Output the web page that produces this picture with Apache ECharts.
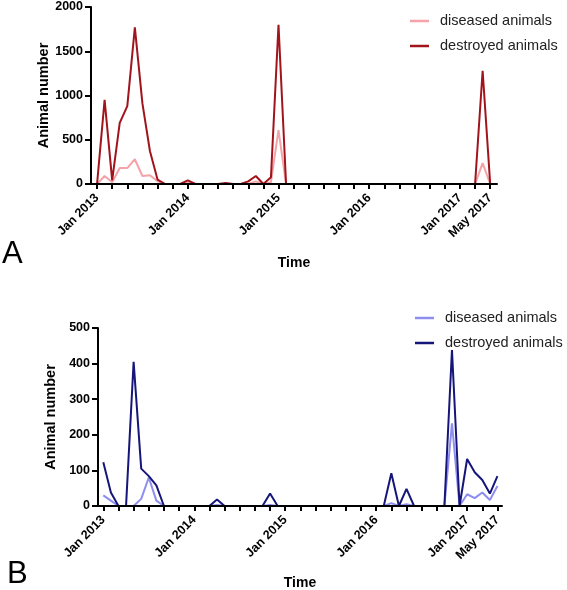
<!DOCTYPE html>
<html>
<head>
<meta charset="utf-8">
<script src="https://cdn.jsdelivr.net/npm/echarts@6/dist/echarts.min.js"></script>
<style>html,body{margin:0;padding:0;background:#fff;}#c{width:567px;height:590px;}</style>
</head>
<body>
<div id="c"></div>
<script>
// Months counted from Jan 2013 (0) to May 2017 (52)
var tickMonths = [0,2,4,6,8,10,12,14,16,18,20,22,24,26,28,30,32,34,36,38,40,42,44,46,48,50,52];
var labelMonths = [0,12,24,36,48,52];
var labelTexts = ['Jan 2013','Jan 2014','Jan 2015','Jan 2016','Jan 2017','May 2017'];

// Panel A
var diseasedA = [0,90,20,180,180,280,90,100,30,0,0,0,10,0,0,0,0,0,0,0,0,30,0,20,610,0,0,0,0,0,0,0,0,0,0,0,0,0,0,0,0,0,0,0,0,0,0,0,0,0,0,235,0];
var destroyedA = [0,950,40,690,880,1770,910,370,50,0,0,0,40,0,0,0,0,10,0,0,30,90,0,75,1800,0,0,0,0,0,0,0,0,0,0,0,0,0,0,0,0,0,0,0,0,0,0,0,0,0,0,1280,0];
// Panel B
var diseasedB = [30,15,0,0,0,20,80,15,0,0,0,0,0,0,0,3,0,0,0,0,0,0,3,0,0,0,0,0,0,0,0,0,0,0,0,0,0,0,8,0,5,0,0,0,0,0,232,0,33,22,38,17,56];
var destroyedB = [123,38,0,0,405,105,84,58,0,0,0,0,0,0,0,18,0,0,0,0,0,0,35,0,0,0,0,0,0,0,0,0,0,0,0,0,0,0,92,0,48,0,0,0,0,0,438,0,132,95,73,35,84];

var yTicksA = [0,500,1000,1500,2000];
var yTicksB = [0,100,200,300,400,500];

var FONT = "'Liberation Sans', Arial, Helvetica, sans-serif";
function pairs(arr){ return arr.map(function(v,i){ return [i,v]; }); }
function labelFor(v){ var k = labelMonths.indexOf(Math.round(v)); return k >= 0 ? labelTexts[k] : ''; }

function xAxisCfg(gridIndex, min, max, nameGap){
  return {
    type:'value', gridIndex:gridIndex, min:min, max:max, z:5,
    name:'Time', nameLocation:'middle', nameGap:nameGap, nameMoveOverlap:false,
    nameTextStyle:{fontFamily:FONT, fontWeight:'bold', fontSize:14, color:'#000'},
    splitLine:{show:false},
    axisLine:{show:true, onZero:false, lineStyle:{color:'#000', width:2}},
    axisTick:{show:true, length:5, customValues:tickMonths, lineStyle:{color:'#000', width:2}},
    axisLabel:{show:true, rotate:45, margin:12, customValues:labelMonths, formatter:labelFor,
      fontFamily:FONT, fontWeight:'bold', fontSize:12.5, color:'#000'}
  };
}
function yAxisCfg(gridIndex, max, interval, ticks, nameGap){
  return {
    type:'value', gridIndex:gridIndex, min:0, max:max, interval:interval, z:5,
    name:'Animal number', nameLocation:'middle', nameGap:nameGap, nameMoveOverlap:false,
    nameTextStyle:{fontFamily:FONT, fontWeight:'bold', fontSize:14.5, color:'#000'},
    splitLine:{show:false},
    axisLine:{show:true, onZero:false, lineStyle:{color:'#000', width:2}},
    axisTick:{show:true, length:6, lineStyle:{color:'#000', width:2}},
    axisLabel:{margin:8, fontFamily:FONT, fontWeight:'bold', fontSize:12.5, color:'#000',
      formatter:function(v){ return ticks.indexOf(v) >= 0 ? String(v) : ''; }}
  };
}
function legendCfg(left, top, names, suffix){
  return {
    orient:'vertical', left:left, top:top, icon:'rect', itemWidth:19, itemHeight:2.5, itemGap:9,
    data:names, selectedMode:false,
    formatter:function(n){ return n.replace(suffix,''); },
    textStyle:{fontFamily:FONT, fontSize:14.5, color:'#222', lineHeight:16, padding:[0,0,0,6]}
  };
}

var chart = echarts.init(document.getElementById('c'), null, {renderer:'canvas'});
chart.setOption({
  animation:false,
  backgroundColor:'#fff',
  grid:[
    {left:91, top:7, width:406, height:177, containLabel:false, outerBoundsMode:'none'},
    {left:98, top:328, width:404, height:178, containLabel:false, outerBoundsMode:'none'}
  ],
  xAxis:[ xAxisCfg(0, -0.8, 52.9, 72), xAxisCfg(1, -0.7, 52.6, 70) ],
  yAxis:[ yAxisCfg(0, 2000, 500, yTicksA, 40), yAxisCfg(1, 500, 100, yTicksB, 40) ],
  legend:[
    legendCfg(405, 8, ['diseased animals','destroyed animals'], ''),
    legendCfg(410, 305, ['diseased animals (B)','destroyed animals (B)'], ' (B)')
  ],
  graphic:[
    {type:'text', left:2, top:239, style:{text:'A', fontFamily:FONT, fontSize:31, fill:'#000'}},
    {type:'text', left:7, top:559, style:{text:'B', fontFamily:FONT, fontSize:31, fill:'#000'}}
  ],
  series:[
    {name:'diseased animals', type:'line', xAxisIndex:0, yAxisIndex:0, data:pairs(diseasedA), symbol:'none',
      itemStyle:{color:'#F4A3A8'}, lineStyle:{color:'#F4A3A8', width:2}},
    {name:'destroyed animals', type:'line', xAxisIndex:0, yAxisIndex:0, data:pairs(destroyedA), symbol:'none',
      itemStyle:{color:'#A1141C'}, lineStyle:{color:'#A1141C', width:2}},
    {name:'diseased animals (B)', type:'line', xAxisIndex:1, yAxisIndex:1, data:pairs(diseasedB), symbol:'none',
      itemStyle:{color:'#8E8EF0'}, lineStyle:{color:'#8E8EF0', width:2}},
    {name:'destroyed animals (B)', type:'line', xAxisIndex:1, yAxisIndex:1, data:pairs(destroyedB), symbol:'none',
      itemStyle:{color:'#16167A'}, lineStyle:{color:'#16167A', width:2}}
  ]
});
</script>
</body>
</html>
